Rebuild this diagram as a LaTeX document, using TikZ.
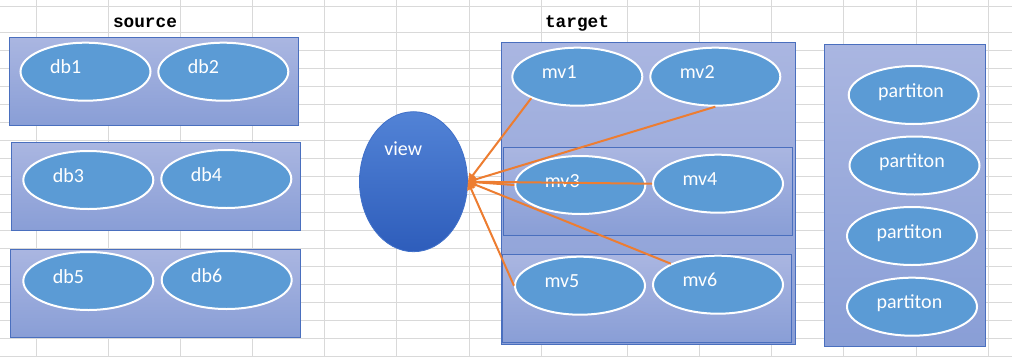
\documentclass[tikz,border=0pt]{standalone}
\usepackage{fontspec}
\setmainfont{Carlito}
\newfontfamily\headfont{Liberation Mono}
\usetikzlibrary{shapes.geometric,arrows.meta}
\definecolor{gridgray}{HTML}{D9D9D9}
\definecolor{boxtop}{HTML}{AAB6E1}
\definecolor{boxbottom}{HTML}{899ED6}
\definecolor{boxline}{HTML}{4A6FBE}
\definecolor{ovalblue}{HTML}{5B9BD5}
\definecolor{viewtop}{HTML}{5283D6}
\definecolor{viewbottom}{HTML}{2E5DBB}
\definecolor{arroworange}{HTML}{ED7D31}

\begin{document}
\begin{tikzpicture}[x=0.75pt, y=-0.75pt, line width=0.75pt, every node/.style={font=\fontsize{15}{18}\selectfont},
    panel/.style={draw=boxline, top color=boxtop, bottom color=boxbottom},
    oval/.style={ellipse, draw=white, line width=1.5pt, fill=ovalblue, inner sep=0pt,
      minimum width=97.5pt, minimum height=43.5pt,
      label={[anchor=base west, inner sep=0pt, xshift=22.5pt, yshift=-1.5pt, text=white]west:#1}},
    head/.style={anchor=base, font=\headfont\bfseries\fontsize{13.3}{15}\selectfont},
    flow/.style={draw=arroworange, line width=1.5pt, -{Triangle[length=6pt, width=6pt]}}]
          \useasboundingbox (0,0) rectangle (1012,357);
          \fill[white] (0,0) rectangle (1012,357);
          \foreach \x in {36,108,180,252,324,396,469,541,627,699,771,843,916,988}
            \draw[gridgray] (\x,0) -- (\x,357);
          \foreach \y in {6,32,50,...,356}
            \draw[gridgray] (0,\y) -- (1012,\y);

          \node[head] (source) at (145,27.3) {source};
          \node[head] (target) at (577,27.3) {target};

          \draw[panel] (9.3,37.3) rectangle (298.3,125.3);
          \draw[panel] (11.3,142.3) rectangle (300.7,230);
          \draw[panel] (10.3,249) rectangle (300,337.3);
          \draw[panel] (501.3,42.3) rectangle (795.3,344);
          \draw[panel] (503.3,147.3) rectangle (792.3,235.3);
          \draw[panel] (502.3,254) rectangle (791.7,342.7);
          \draw[panel] (824.3,44.3) rectangle (985.7,346);

          \node[oval=db1] (db1) at (85.5,71.7) {};
          \node[oval=db2] (db2) at (223.3,71.7) {};
          \node[oval=db3] (db3) at (88.3,180) {};
          \node[oval=db4] (db4) at (226.3,179) {};
          \node[oval=db5] (db5) at (88.3,281) {};
          \node[oval=db6] (db6) at (226.7,280) {};

          \node[oval=mv1] (mv1) at (577.3,76.7) {};
          \node[oval=mv2] (mv2) at (715.3,76.7) {};
          \node[oval=mv3] (mv3) at (580.3,185) {};
          \node[oval=mv4] (mv4) at (718,183.7) {};
          \node[oval=mv5] (mv5) at (580,285.7) {};
          \node[oval=mv6] (mv6) at (718,284.7) {};

          \node[oval=partiton] (part1) at (913.7,95) {};
          \node[oval=partiton] (part2) at (914.5,165.5) {};
          \node[oval=partiton] (part3) at (912,236) {};
          \node[oval=partiton] (part4) at (912,306.7) {};

          \node[ellipse, inner sep=0pt, draw=viewtop!50!viewbottom, line width=0.6pt,
            top color=viewtop, bottom color=viewbottom, minimum width=81pt, minimum height=105pt,
            label={[anchor=base west, inner sep=0pt, xshift=18.5pt, yshift=20pt, text=white]west:view}] (view) at (413.5,181.7) {};

          \draw[flow] (mv1.205) -- (view.east);
          \draw[flow] (mv2.south) -- (view.east);
          \draw[flow] (mv3.west) -- (view.east);
          \draw[flow] (mv4.west) -- (view.east);
          \draw[flow] (mv5.west) -- (view.east);
          \draw[flow] (mv6.156) -- (view.east);
        \end{tikzpicture}
\end{document}
